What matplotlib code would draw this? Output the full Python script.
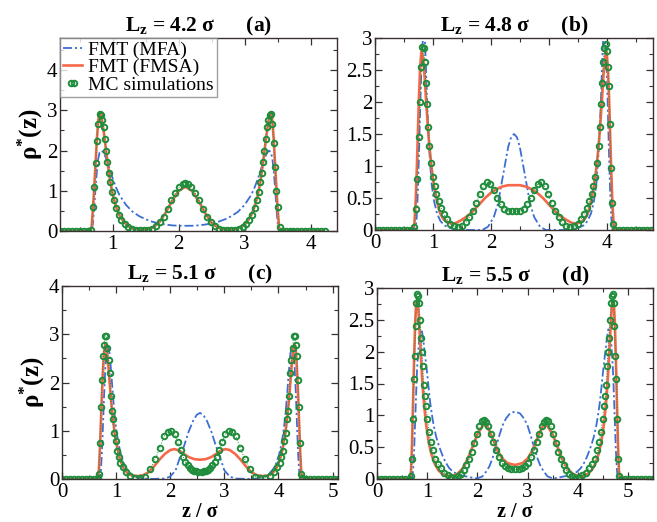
import matplotlib
matplotlib.use("Agg")
import matplotlib.pyplot as plt
from matplotlib.ticker import MultipleLocator, FormatStrFormatter
from matplotlib.legend_handler import HandlerLine2D

plt.rcParams['font.family'] = ['Liberation Serif', 'DejaVu Serif']
plt.rcParams['mathtext.fontset'] = 'custom'
plt.rcParams['mathtext.rm'] = 'Liberation Serif'
plt.rcParams['mathtext.it'] = 'Liberation Serif:italic'
plt.rcParams['mathtext.bf'] = 'Liberation Serif:bold'

# ---- panel (a) : Lz = 4.2 ----
z_mc_a = [0.20, 0.26, 0.32, 0.38, 0.44, 0.50, 0.56, 0.62, 0.67,
          0.70, 0.72, 0.74, 0.76, 0.78, 0.80, 0.82, 0.84, 0.86, 0.88, 0.90, 0.92, 0.94, 0.96,
          0.99, 1.02, 1.05, 1.09, 1.13, 1.18, 1.23, 1.29, 1.35, 1.41, 1.47, 1.53, 1.59, 1.65,
          1.71, 1.77, 1.83, 1.89, 1.95, 2.01, 2.06, 2.10, 2.14, 2.19, 2.25, 2.31, 2.37, 2.43,
          2.49, 2.55, 2.61, 2.67, 2.73, 2.79, 2.85, 2.91, 2.97, 3.02, 3.07, 3.11, 3.15, 3.18, 3.21,
          3.24, 3.26, 3.28, 3.30, 3.32, 3.34, 3.36, 3.38, 3.40, 3.42, 3.44, 3.46, 3.48, 3.50,
          3.53, 3.56,
          3.62, 3.68, 3.74, 3.80, 3.86, 3.92, 3.98, 4.04, 4.10, 4.16, 4.22]
rho_mc_a = [0, 0, 0, 0, 0, 0, 0, 0, 0.02,
            0.6, 1.1, 1.7, 2.25, 2.65, 2.9, 2.88, 2.75, 2.58, 2.3, 2.0, 1.72, 1.45, 1.22,
            0.97, 0.76, 0.58, 0.41, 0.28, 0.17, 0.1, 0.05, 0.03, 0.02, 0.02, 0.03, 0.06, 0.12,
            0.22, 0.36, 0.55, 0.76, 0.95, 1.1, 1.18, 1.2, 1.18, 1.1, 0.95, 0.76, 0.55, 0.36,
            0.22, 0.12, 0.06, 0.03, 0.02, 0.02, 0.03, 0.05, 0.1, 0.17, 0.28, 0.41, 0.58, 0.76, 0.97,
            1.22, 1.45, 1.72, 2.0, 2.3, 2.58, 2.75, 2.88, 2.9, 2.65, 2.2, 1.6, 1.0, 0.6,
            0.1, 0,
            0, 0, 0, 0, 0, 0, 0, 0, 0, 0, 0]
z_fmsa_a = [0.20, 0.66, 0.68, 0.70, 0.72, 0.74, 0.76, 0.78, 0.80, 0.82, 0.84, 0.86, 0.88, 0.90,
            0.93, 0.96, 1.00, 1.05, 1.10, 1.16, 1.23, 1.30, 1.40, 1.50, 1.60, 1.70, 1.80, 1.90,
            2.00, 2.10, 2.20, 2.30, 2.40, 2.50, 2.60, 2.70, 2.80, 2.90, 2.97, 3.04, 3.10, 3.15,
            3.20, 3.24, 3.27, 3.30, 3.32, 3.34, 3.36, 3.38, 3.40, 3.42, 3.44, 3.46, 3.48, 3.50,
            3.52, 3.54, 4.20]
rho_fmsa_a = [0, 0, 0.1, 0.55, 1.1, 1.7, 2.3, 2.75, 2.95, 2.9, 2.72, 2.5, 2.25, 1.98,
              1.6, 1.25, 0.9, 0.6, 0.4, 0.24, 0.13, 0.07, 0.04, 0.04, 0.08, 0.2, 0.45, 0.75,
              1.0, 1.1, 1.0, 0.75, 0.45, 0.2, 0.08, 0.04, 0.04, 0.07, 0.13, 0.24, 0.4, 0.6,
              0.9, 1.25, 1.6, 1.98, 2.25, 2.5, 2.72, 2.9, 2.95, 2.75, 2.3, 1.7, 1.1, 0.55,
              0.1, 0, 0]
z_mfa_a = [0.20, 0.68, 0.70, 0.72, 0.74, 0.76, 0.78, 0.80, 0.83, 0.86, 0.90, 0.95, 1.00, 1.05,
           1.10, 1.20, 1.30, 1.40, 1.50, 1.60, 1.70, 1.80, 1.90, 2.00, 2.10, 2.20, 2.30, 2.40,
           2.50, 2.60, 2.70, 2.80, 2.90, 3.00, 3.10, 3.15, 3.20, 3.25, 3.30, 3.34, 3.37, 3.40,
           3.42, 3.44, 3.46, 3.48, 3.50, 3.52, 4.20]
rho_mfa_a = [0, 0, 0.2, 0.6, 1.1, 1.5, 1.8, 1.95, 2.0, 1.95, 1.8, 1.55, 1.3, 1.08,
             0.9, 0.65, 0.48, 0.37, 0.29, 0.23, 0.19, 0.16, 0.14, 0.13, 0.13, 0.13, 0.14, 0.16,
             0.19, 0.23, 0.29, 0.37, 0.48, 0.65, 0.9, 1.08, 1.3, 1.55, 1.8, 1.95, 2.0, 1.95,
             1.8, 1.5, 1.1, 0.6, 0.2, 0, 0]

# ---- panel (b) : Lz = 4.8 ----
z_mc_b = [0.00, 0.07, 0.14, 0.21, 0.28, 0.35, 0.42, 0.49, 0.56, 0.63,
          0.68, 0.70, 0.73, 0.76, 0.78,
          0.80, 0.82, 0.84, 0.86, 0.88, 0.90, 0.92, 0.94,
          0.97, 1.00, 1.03, 1.06, 1.10, 1.14, 1.19, 1.24, 1.30, 1.37, 1.44, 1.51,
          1.57, 1.63, 1.69, 1.75, 1.81, 1.87, 1.93, 1.99, 2.05, 2.11, 2.17, 2.23,
          2.30, 2.37, 2.43, 2.50,
          2.57, 2.63, 2.69, 2.75, 2.81, 2.87, 2.93, 2.99, 3.05, 3.11, 3.17, 3.23, 3.29,
          3.36, 3.43, 3.50, 3.56, 3.61, 3.66, 3.70, 3.74, 3.77, 3.80, 3.83, 3.86,
          3.88, 3.90, 3.92, 3.94, 3.96, 3.98, 4.00, 4.02, 4.04, 4.06,
          4.07, 4.09, 4.11, 4.14,
          4.21, 4.28, 4.35, 4.42, 4.49, 4.56, 4.63, 4.70, 4.77]
rho_mc_b = [0, 0, 0, 0, 0, 0, 0, 0, 0, 0,
            0.05, 0.33, 0.8, 1.46, 2.0,
            2.55, 2.86, 2.84, 2.62, 2.3, 1.97, 1.61, 1.32,
            1.04, 0.83, 0.68, 0.56, 0.45, 0.35, 0.25, 0.17, 0.1, 0.06, 0.05, 0.07,
            0.12, 0.2, 0.3, 0.42, 0.56, 0.68, 0.75, 0.72, 0.62, 0.5, 0.4, 0.33,
            0.3, 0.29, 0.29, 0.3,
            0.33, 0.4, 0.5, 0.62, 0.72, 0.75, 0.68, 0.56, 0.42, 0.3, 0.2, 0.12, 0.07,
            0.05, 0.06, 0.1, 0.17, 0.25, 0.35, 0.45, 0.56, 0.68, 0.83, 1.04, 1.32,
            1.61, 1.97, 2.3, 2.62, 2.84, 2.9, 2.8, 2.55, 2.25, 1.65,
            0.97, 0.42, 0.1, 0,
            0, 0, 0, 0, 0, 0, 0, 0, 0]
z_fmsa_b = [0.00, 0.66, 0.68, 0.70, 0.72, 0.74, 0.76, 0.78, 0.80, 0.82, 0.84, 0.86, 0.88,
            0.91, 0.94, 0.98, 1.02, 1.07, 1.12, 1.18, 1.25, 1.32,
            1.40, 1.50, 1.60, 1.70, 1.80, 1.90, 2.00, 2.10, 2.20, 2.30, 2.40, 2.50, 2.60, 2.70,
            2.80, 2.90, 3.00, 3.10, 3.20, 3.30, 3.40,
            3.48, 3.55, 3.62, 3.68, 3.73, 3.78, 3.82, 3.86, 3.89,
            3.92, 3.94, 3.96, 3.98, 4.00, 4.02, 4.04, 4.06, 4.08, 4.10, 4.12, 4.14, 4.80]
rho_fmsa_b = [0, 0, 0.1, 0.4, 0.9, 1.5, 2.1, 2.55, 2.78, 2.75, 2.6, 2.35, 2.05,
              1.65, 1.3, 0.95, 0.68, 0.45, 0.27, 0.17, 0.12, 0.1,
              0.11, 0.16, 0.22, 0.3, 0.4, 0.5, 0.58, 0.64, 0.68, 0.7, 0.7, 0.7, 0.68, 0.64,
              0.58, 0.5, 0.4, 0.3, 0.22, 0.16, 0.11,
              0.1, 0.12, 0.17, 0.27, 0.45, 0.68, 0.95, 1.3, 1.65,
              2.05, 2.35, 2.6, 2.75, 2.78, 2.55, 2.1, 1.5, 0.9, 0.4, 0.1, 0, 0]
z_mfa_b = [0.00, 0.70, 0.72, 0.74, 0.76, 0.78, 0.80, 0.82, 0.84, 0.86, 0.88, 0.90, 0.92,
           0.95, 0.98, 1.02, 1.07, 1.13, 1.20, 1.30, 1.40, 1.55, 1.85, 1.95, 2.05, 2.12, 2.18,
           2.24, 2.30, 2.35, 2.40, 2.45, 2.50, 2.56, 2.62, 2.68, 2.75, 2.85, 2.95, 3.25, 3.40,
           3.50, 3.60, 3.67, 3.73, 3.78, 3.82, 3.85,
           3.88, 3.90, 3.92, 3.94, 3.96, 3.98, 4.00, 4.02, 4.04, 4.06, 4.08, 4.10, 4.80]
rho_mfa_b = [0, 0, 0.2, 0.6, 1.2, 1.9, 2.5, 2.9, 3.1, 3.0, 2.55, 2.0, 1.55,
             1.05, 0.7, 0.45, 0.26, 0.14, 0.07, 0.03, 0.01, 0, 0, 0.05, 0.2, 0.4, 0.7,
             1.0, 1.3, 1.45, 1.5, 1.45, 1.3, 1.0, 0.7, 0.4, 0.2, 0.05, 0, 0, 0.01,
             0.03, 0.07, 0.14, 0.26, 0.45, 0.7, 1.05,
             1.55, 2.0, 2.55, 3.0, 3.1, 2.9, 2.5, 1.9, 1.2, 0.6, 0.2, 0, 0]

# ---- panel (c) : Lz = 5.1 ----
z_mc_c = [0.00, 0.075, 0.15, 0.225, 0.30, 0.375, 0.45, 0.525, 0.60,
          0.66, 0.68, 0.70, 0.72, 0.74, 0.76, 0.78, 0.80, 0.82, 0.84, 0.86, 0.88, 0.90, 0.92,
          0.94, 0.96,
          0.99, 1.02, 1.05, 1.08, 1.13, 1.19, 1.26, 1.35, 1.44,
          1.54, 1.63, 1.72, 1.81, 1.89, 1.96, 2.02, 2.08, 2.14, 2.19, 2.24, 2.28, 2.32, 2.36,
          2.40, 2.44, 2.48, 2.52,
          2.58, 2.62, 2.66, 2.70, 2.74, 2.78, 2.82, 2.86, 2.91, 2.96, 3.02, 3.08, 3.14, 3.21,
          3.29, 3.38, 3.47, 3.56,
          3.66, 3.75, 3.84, 3.91, 3.97, 4.02, 4.05, 4.08, 4.11,
          4.14, 4.16, 4.18, 4.20, 4.22, 4.24, 4.26, 4.28, 4.30, 4.32, 4.34, 4.36, 4.38, 4.40,
          4.42, 4.44,
          4.50, 4.575, 4.65, 4.725, 4.80, 4.875, 4.95, 5.025, 5.10]
rho_mc_c = [0, 0, 0, 0, 0, 0, 0, 0, 0,
            0.02, 0.1, 0.75, 1.5, 2.06, 2.54, 2.78, 2.96, 2.97, 2.71, 2.47, 2.2, 1.72, 1.41,
            1.24, 0.96,
            0.79, 0.58, 0.45, 0.34, 0.24, 0.14, 0.07, 0.03, 0.03,
            0.05, 0.2, 0.41, 0.65, 0.89, 0.98, 1.0, 0.93, 0.76, 0.6, 0.45, 0.36, 0.29, 0.23,
            0.19, 0.17, 0.16, 0.155,
            0.155, 0.16, 0.17, 0.19, 0.23, 0.29, 0.36, 0.45, 0.6, 0.76, 0.93, 1.0, 0.98, 0.89,
            0.65, 0.41, 0.2, 0.05,
            0.03, 0.03, 0.07, 0.14, 0.24, 0.34, 0.45, 0.58, 0.79,
            0.96, 1.24, 1.41, 1.72, 2.2, 2.47, 2.71, 2.97, 2.96, 2.78, 2.54, 2.06, 1.5, 0.75,
            0.1, 0.02,
            0, 0, 0, 0, 0, 0, 0, 0, 0]
z_fmsa_c = [0.00, 0.66, 0.68, 0.70, 0.72, 0.74, 0.76, 0.78, 0.80, 0.82, 0.84, 0.86, 0.88,
            0.91, 0.94, 0.98, 1.03, 1.08, 1.15, 1.22, 1.30,
            1.40, 1.50, 1.60, 1.70, 1.80, 1.90, 2.00,
            2.08, 2.16, 2.25, 2.35, 2.45, 2.55, 2.65, 2.75, 2.85, 2.94, 3.02,
            3.10, 3.20, 3.30, 3.40, 3.50, 3.60, 3.70,
            3.80, 3.88, 3.95, 4.02, 4.07, 4.12, 4.16, 4.19,
            4.22, 4.24, 4.26, 4.28, 4.30, 4.32, 4.34, 4.36, 4.38, 4.40, 4.42, 4.44, 5.10]
rho_fmsa_c = [0, 0, 0.15, 0.6, 1.2, 1.8, 2.3, 2.65, 2.8, 2.75, 2.55, 2.3, 2.0,
              1.6, 1.25, 0.9, 0.6, 0.38, 0.2, 0.11, 0.07,
              0.06, 0.08, 0.14, 0.26, 0.4, 0.52, 0.6,
              0.62, 0.59, 0.52, 0.45, 0.41, 0.4, 0.41, 0.45, 0.52, 0.59, 0.62,
              0.6, 0.52, 0.4, 0.26, 0.14, 0.08, 0.06,
              0.07, 0.11, 0.2, 0.38, 0.6, 0.9, 1.25, 1.6,
              2.0, 2.3, 2.55, 2.75, 2.8, 2.65, 2.3, 1.8, 1.2, 0.6, 0.15, 0, 0]
z_mfa_c = [0.00, 0.70, 0.72, 0.74, 0.76, 0.78, 0.80, 0.82,
           0.85, 0.88, 0.91, 0.94, 0.97, 1.00, 1.04, 1.09, 1.14, 1.20, 1.28, 1.38, 1.50, 1.65,
           1.90, 2.00, 2.10, 2.18, 2.26, 2.34, 2.42, 2.49, 2.55, 2.61, 2.68, 2.76, 2.84, 2.92,
           3.00, 3.10, 3.20,
           3.45, 3.60, 3.72, 3.82, 3.90, 3.96, 4.01, 4.06, 4.10, 4.13, 4.16, 4.19, 4.22, 4.25,
           4.28, 4.30, 4.32, 4.34, 4.36, 4.38, 4.40, 5.10]
rho_mfa_c = [0, 0, 0.2, 0.6, 1.2, 1.8, 2.3, 2.6,
             2.75, 2.6, 2.2, 1.75, 1.35, 1.05, 0.75, 0.5, 0.33, 0.2, 0.1, 0.04, 0.01, 0,
             0.01, 0.05, 0.18, 0.45, 0.7, 0.98, 1.2, 1.33, 1.37, 1.33, 1.2, 0.98, 0.7, 0.45,
             0.18, 0.05, 0.01,
             0, 0.01, 0.04, 0.1, 0.2, 0.33, 0.5, 0.75, 1.05, 1.35, 1.75, 2.2, 2.6, 2.75,
             2.6, 2.3, 1.8, 1.2, 0.6, 0.2, 0, 0]

# ---- panel (d) : Lz = 5.5 ----
z_mc_d = [0.00, 0.08, 0.16, 0.24, 0.32, 0.40, 0.48, 0.56, 0.63,
          0.67, 0.69, 0.71, 0.73, 0.75, 0.77, 0.78, 0.80, 0.82, 0.83, 0.86, 0.88, 0.90, 0.91,
          0.93, 0.95, 0.98, 1.00,
          1.04, 1.07, 1.11, 1.16, 1.21, 1.27, 1.34, 1.41, 1.48, 1.55,
          1.62, 1.68, 1.73, 1.78, 1.84, 1.89, 1.94, 1.99, 2.04, 2.09, 2.13, 2.17, 2.22, 2.27,
          2.32, 2.37, 2.43, 2.49, 2.55, 2.62, 2.68, 2.75,
          2.82, 2.88, 2.95, 3.01, 3.07, 3.13, 3.18, 3.23, 3.28, 3.33, 3.37, 3.41, 3.46, 3.51,
          3.56, 3.61, 3.66, 3.72, 3.77, 3.82, 3.88,
          3.95, 4.02, 4.09, 4.16, 4.23, 4.29, 4.34, 4.39, 4.43, 4.46,
          4.50, 4.52, 4.55, 4.57, 4.59, 4.60, 4.62, 4.64, 4.67, 4.68, 4.70, 4.72, 4.73, 4.75,
          4.77, 4.79, 4.81, 4.83,
          4.87, 4.94, 5.02, 5.10, 5.18, 5.26, 5.34, 5.42, 5.50]
rho_mc_d = [0, 0, 0, 0, 0, 0, 0, 0, 0,
            0.05, 0.32, 0.95, 1.57, 1.93, 2.4, 2.77, 2.9, 2.88, 2.77, 2.5, 2.22, 1.99, 1.78,
            1.47, 1.31, 1.15, 0.95,
            0.74, 0.58, 0.45, 0.32, 0.24, 0.17, 0.1, 0.06, 0.03, 0.02,
            0.04, 0.08, 0.14, 0.22, 0.32, 0.43, 0.56, 0.71, 0.84, 0.91, 0.92, 0.9, 0.83, 0.71,
            0.58, 0.45, 0.34, 0.25, 0.2, 0.17, 0.15, 0.15,
            0.15, 0.17, 0.2, 0.25, 0.34, 0.45, 0.58, 0.71, 0.83, 0.9, 0.92, 0.91, 0.84, 0.71,
            0.56, 0.43, 0.32, 0.22, 0.14, 0.08, 0.04,
            0.02, 0.03, 0.06, 0.1, 0.17, 0.24, 0.32, 0.45, 0.58, 0.74,
            0.95, 1.15, 1.31, 1.47, 1.78, 1.99, 2.22, 2.5, 2.77, 2.88, 2.9, 2.77, 2.4, 1.93,
            1.57, 0.95, 0.32, 0.05,
            0, 0, 0, 0, 0, 0, 0, 0, 0]
z_fmsa_d = [0.00, 0.66, 0.68, 0.70, 0.72, 0.74, 0.76, 0.78, 0.80, 0.82, 0.84, 0.86, 0.88,
            0.91, 0.94, 0.98, 1.03, 1.08, 1.15, 1.22, 1.30,
            1.40, 1.50, 1.60, 1.70, 1.80, 1.90, 2.00, 2.10,
            2.15, 2.20, 2.30, 2.40, 2.50, 2.60, 2.75, 2.90, 3.00, 3.10, 3.20, 3.30, 3.35,
            3.40, 3.50, 3.60, 3.70, 3.80, 3.90, 4.00, 4.10, 4.20,
            4.28, 4.35, 4.42, 4.47, 4.52, 4.56, 4.59,
            4.62, 4.64, 4.66, 4.68, 4.70, 4.72, 4.74, 4.76, 4.78, 4.80, 4.82, 4.84, 5.50]
rho_fmsa_d = [0, 0, 0.15, 0.6, 1.25, 1.9, 2.45, 2.75, 2.8, 2.7, 2.45, 2.15, 1.85,
              1.45, 1.15, 0.85, 0.58, 0.4, 0.24, 0.14, 0.08,
              0.05, 0.05, 0.08, 0.16, 0.3, 0.5, 0.7, 0.83,
              0.85, 0.82, 0.65, 0.45, 0.32, 0.25, 0.22, 0.25, 0.32, 0.45, 0.65, 0.82, 0.85,
              0.83, 0.7, 0.5, 0.3, 0.16, 0.08, 0.05, 0.05, 0.08,
              0.14, 0.24, 0.4, 0.58, 0.85, 1.15, 1.45,
              1.85, 2.15, 2.45, 2.7, 2.8, 2.75, 2.45, 1.9, 1.25, 0.6, 0.15, 0, 0]
z_mfa_d = [0.00, 0.70, 0.72, 0.74, 0.76, 0.78, 0.80,
           0.83, 0.86, 0.89, 0.92, 0.95, 0.99, 1.03, 1.06, 1.10, 1.13, 1.18, 1.23, 1.30, 1.36,
           1.44, 1.52, 1.65, 1.78, 1.90, 2.00,
           2.10, 2.17, 2.24, 2.30, 2.37, 2.44, 2.50, 2.57, 2.65, 2.75, 2.85, 2.93, 3.00, 3.06,
           3.13, 3.20, 3.26, 3.33, 3.40,
           3.50, 3.60, 3.72, 3.85, 3.98, 4.06, 4.14, 4.20, 4.27, 4.32, 4.37, 4.40, 4.44, 4.47,
           4.51, 4.55, 4.58, 4.61, 4.64, 4.67,
           4.70, 4.72, 4.74, 4.76, 4.78, 4.80, 5.50]
rho_mfa_d = [0, 0, 0.15, 0.45, 0.9, 1.35, 1.75,
             2.1, 2.3, 2.35, 2.2, 2.0, 1.73, 1.42, 1.2, 0.98, 0.84, 0.66, 0.53, 0.38, 0.27,
             0.17, 0.11, 0.06, 0.04, 0.02, 0.01,
             0.04, 0.11, 0.2, 0.32, 0.5, 0.69, 0.84, 0.95, 1.03, 1.06, 1.03, 0.95, 0.84, 0.69,
             0.5, 0.32, 0.2, 0.11, 0.04,
             0.01, 0.02, 0.04, 0.06, 0.11, 0.17, 0.27, 0.38, 0.53, 0.66, 0.84, 0.98, 1.2, 1.42,
             1.73, 2.0, 2.2, 2.35, 2.3, 2.1,
             1.75, 1.35, 0.9, 0.45, 0.15, 0, 0]

titles = ['4.2', '4.8', '5.1', '5.5']
tags = ['(a)', '(b)', '(c)', '(d)']
xlims = [(0.2, 4.4), (0, 4.8), (0, 5.1), (0, 5.5)]
ylims = [(0, 4.8), (0, 3), (0, 4), (0, 3)]
ymajor = [1, 0.5, 1, 0.5]

blue = '#3c6fd4'
red = '#f5694a'
green = '#1f8d3c'

W, H = 657, 522
# axes boxes in pixels: left, top, right, bottom
boxes = [(60, 38, 337, 231), (375, 38, 653, 230), (62, 286, 338, 479), (377, 288, 653, 479)]

data = [(z_mfa_a, rho_mfa_a, z_fmsa_a, rho_fmsa_a, z_mc_a, rho_mc_a),
        (z_mfa_b, rho_mfa_b, z_fmsa_b, rho_fmsa_b, z_mc_b, rho_mc_b),
        (z_mfa_c, rho_mfa_c, z_fmsa_c, rho_fmsa_c, z_mc_c, rho_mc_c),
        (z_mfa_d, rho_mfa_d, z_fmsa_d, rho_fmsa_d, z_mc_d, rho_mc_d)]

fig = plt.figure(figsize=(W / 100, H / 100), dpi=100)

for i in range(4):
    l, t, r, b = boxes[i]
    ax = fig.add_axes([l / W, 1 - b / H, (r - l) / W, (b - t) / H])
    zm, rm, zf, rf, zc, rc = data[i]
    ax.plot(zm, rm, color=blue, lw=1.3, ls=(0, (5, 1.6, 1.2, 1.6)), label='FMT (MFA)')
    ax.plot(zf, rf, color=red, lw=1.9, label='FMT (FMSA)')
    ax.plot(zc, rc, color=green, lw=0.7, ls=':')
    mc, = ax.plot(zc, rc, ls='none', marker='o', ms=4.0, mew=1.4, mfc='none', mec=green,
                  label='MC simulations')

    ax.set_xlim(*xlims[i])
    ax.set_ylim(*ylims[i])
    ax.xaxis.set_major_locator(MultipleLocator(1))
    ax.xaxis.set_minor_locator(MultipleLocator(0.5))
    ax.yaxis.set_major_locator(MultipleLocator(ymajor[i]))
    ax.yaxis.set_minor_locator(MultipleLocator(ymajor[i] / 2))
    ax.yaxis.set_major_formatter(FormatStrFormatter('%g'))
    ax.tick_params(which='both', direction='in', top=True, right=True, labelsize=15,
                   color='#333333')
    ax.tick_params(axis='y', pad=2)
    ax.tick_params(axis='x', pad=3)
    ax.tick_params(which='major', length=5, width=0.9)
    ax.tick_params(which='minor', length=3, width=0.8)
    for s in ax.spines.values():
        s.set_color('#3a3030')
        s.set_linewidth(1.0)

    ax.set_title(r'$\mathbf{L_z}$ = ' + titles[i] + ' σ      ' + tags[i],
                 fontsize=15.5, fontweight='bold', pad=5)
    if i % 2 == 0:
        ax.set_ylabel(r'$\mathbf{ρ^{*}(z)}$', fontsize=18, labelpad=1)
    if i >= 2:
        ax.set_xlabel('z / σ', fontsize=14.5, fontweight='bold', labelpad=0)

    if i == 0:
        ax.legend(loc='upper left', fontsize=14, frameon=True, fancybox=False,
                  edgecolor='#888888', borderaxespad=0, borderpad=0.15, labelspacing=0.0,
                  handlelength=1.0, handletextpad=0.3,
                  handler_map={mc: HandlerLine2D(numpoints=2, marker_pad=0.42)})

fig.savefig('out.png', dpi=100)
